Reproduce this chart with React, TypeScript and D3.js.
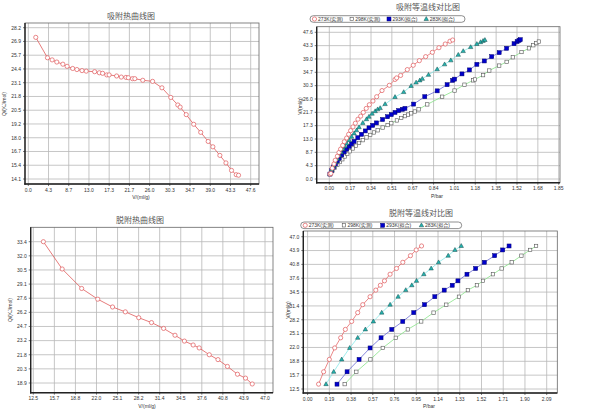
import * as d3 from "d3";

// ---- 吸附热曲线图 (top left) ----
const adsHeatV = [1.6, 4.1, 5.1, 6.1, 7.4, 8.3, 9.5, 10.4, 11.5, 12.4, 14.2, 15.2, 15.9, 16.8, 17.3, 18.9, 19.9, 20.9, 21.4, 22.3, 22.8, 24.5, 26.6, 28.6, 30.5, 32.0, 32.5, 33.8, 35.4, 36.9, 38.5, 39.5, 41.0, 42.3, 43.5, 44.5, 45.0];
const adsHeatQ = [27.3, 25.4, 25.2, 25.0, 24.8, 24.6, 24.4, 24.3, 24.2, 24.15, 24.1, 24.0, 23.95, 23.8, 23.8, 23.7, 23.6, 23.57, 23.54, 23.45, 23.45, 23.3, 23.2, 22.6, 21.7, 21.0, 20.8, 20.1, 19.2, 18.45, 17.6, 17.1, 16.3, 15.6, 14.9, 14.5, 14.45];
const adsHeatXTicks = ["0.0", "4.3", "8.7", "13.0", "17.3", "21.7", "26.0", "30.3", "34.7", "39.0", "43.3", "47.6"];
const adsHeatYTicks = ["14.1", "15.4", "16.7", "18.0", "19.2", "20.5", "21.8", "23.1", "24.4", "25.7", "26.9", "28.2"];

// ---- 脱附热曲线图 (bottom left) ----
const desHeatV = [14.0, 16.8, 19.7, 22.1, 24.3, 26.2, 28.2, 30.1, 31.9, 33.6, 35.0, 36.3, 37.2, 38.7, 40.0, 41.4, 42.9, 44.1, 45.1];
const desHeatQ = [33.4, 30.6, 28.6, 27.5, 26.7, 26.2, 25.6, 25.1, 24.5, 23.8, 23.2, 22.8, 22.5, 21.8, 21.3, 20.6, 19.8, 19.4, 18.8];
const desHeatXTicks = ["12.5", "15.7", "18.8", "22.0", "25.1", "28.2", "31.4", "34.5", "37.6", "40.8", "43.9", "47.0"];
const desHeatYTicks = ["18.9", "20.3", "21.8", "23.2", "24.7", "26.2", "27.6", "29.1", "30.5", "32.0", "33.4"];

// ---- 吸附等温线对比图 (top right), [P, V] ----
const ads273 = [[0.005, 1.6], [0.013, 1.8], [0.024, 3.5], [0.038, 4.9], [0.048, 6.1], [0.065, 7.4], [0.078, 8.6], [0.091, 9.7], [0.108, 10.9], [0.121, 12.1], [0.14, 13.3], [0.156, 14.5], [0.172, 15.7], [0.191, 16.9], [0.21, 18.1], [0.231, 19.4], [0.253, 20.4], [0.274, 21.6], [0.298, 22.9], [0.323, 24.1], [0.352, 25.3], [0.382, 26.7], [0.425, 28.7], [0.484, 30.4], [0.53, 32.3], [0.543, 32.8], [0.575, 33.6], [0.629, 35.5], [0.677, 36.9], [0.726, 38.4], [0.777, 39.7], [0.831, 41.1], [0.884, 42.6], [0.935, 43.8], [0.973, 44.7], [0.995, 45.1]];
const ads298 = [[0.005, 1.6], [0.025, 2.6], [0.045, 3.6], [0.065, 4.6], [0.085, 5.5], [0.105, 6.4], [0.125, 7.3], [0.145, 8.2], [0.165, 9.0], [0.19, 9.9], [0.215, 10.8], [0.24, 11.7], [0.27, 12.6], [0.3, 13.5], [0.33, 14.3], [0.36, 15.1], [0.39, 15.8], [0.43, 16.7], [0.47, 17.5], [0.5, 18.1], [0.545, 19.0], [0.58, 19.8], [0.61, 20.4], [0.635, 20.9], [0.66, 21.3], [0.69, 21.9], [0.72, 22.6], [0.79, 24.2], [0.91, 26.7], [1.01, 28.7], [1.09, 30.6], [1.16, 32.0], [1.175, 32.3], [1.24, 33.7], [1.29, 35.2], [1.37, 36.8], [1.43, 38.0], [1.48, 39.5], [1.55, 41.2], [1.61, 42.4], [1.645, 43.4], [1.67, 44.1], [1.69, 44.6]];
const ads293 = [[0.005, 1.6], [0.02, 2.8], [0.035, 3.9], [0.05, 4.9], [0.065, 5.9], [0.08, 6.8], [0.1, 7.8], [0.12, 8.8], [0.14, 9.7], [0.16, 10.6], [0.18, 11.4], [0.2, 12.2], [0.23, 13.4], [0.26, 14.5], [0.29, 15.6], [0.32, 16.6], [0.35, 17.4], [0.38, 18.2], [0.43, 19.3], [0.47, 20.2], [0.5, 20.9], [0.53, 21.6], [0.56, 22.2], [0.59, 22.6], [0.61, 22.9], [0.68, 24.3], [0.77, 26.7], [0.87, 28.6], [0.95, 30.6], [0.995, 32.0], [1.01, 32.4], [1.07, 34.1], [1.13, 35.4], [1.19, 37.2], [1.25, 38.3], [1.31, 39.7], [1.37, 41.0], [1.43, 42.4], [1.49, 43.9], [1.515, 44.6], [1.53, 45.0], [1.54, 45.2]];
const ads283 = [[0.005, 1.6], [0.02, 3.0], [0.035, 4.3], [0.05, 5.5], [0.065, 6.6], [0.08, 7.7], [0.095, 8.7], [0.11, 9.7], [0.125, 10.6], [0.14, 11.5], [0.16, 12.6], [0.18, 13.7], [0.2, 14.8], [0.22, 15.8], [0.24, 16.8], [0.27, 18.2], [0.3, 19.4], [0.32, 20.2], [0.345, 21.2], [0.37, 22.0], [0.39, 22.6], [0.41, 23.0], [0.45, 24.3], [0.53, 26.6], [0.6, 28.2], [0.66, 30.2], [0.7, 31.3], [0.73, 32.0], [0.75, 32.5], [0.8, 33.8], [0.87, 35.6], [0.93, 37.2], [0.98, 38.5], [1.04, 40.3], [1.08, 41.5], [1.14, 42.8], [1.19, 43.8], [1.22, 44.4], [1.24, 44.8], [1.255, 45.1]];
const adsIsoXTicks = ["0.00", "0.17", "0.34", "0.51", "0.67", "0.84", "1.01", "1.18", "1.35", "1.52", "1.68", "1.85"];
const adsIsoYTicks = ["0.0", "4.3", "8.7", "13.0", "17.3", "21.7", "26.0", "30.3", "34.7", "39.0", "43.3", "47.6"];

// ---- 脱附等温线对比图 (bottom right): shared V rows, P per series ----
const desIsoV = [13.6, 16.4, 19.2, 21.8, 24.1, 26.0, 27.8, 29.8, 31.6, 33.4, 34.9, 36.0, 37.0, 38.5, 39.8, 41.2, 42.7, 44.0, 44.9];
const des273P = [0.096, 0.14, 0.19, 0.237, 0.289, 0.33, 0.385, 0.438, 0.482, 0.546, 0.596, 0.636, 0.672, 0.721, 0.777, 0.832, 0.899, 0.949, 0.996];
const des283P = [0.161, 0.228, 0.298, 0.368, 0.438, 0.505, 0.575, 0.648, 0.721, 0.791, 0.858, 0.911, 0.952, 1.016, 1.08, 1.145, 1.229, 1.288, 1.343];
const des293P = [0.257, 0.345, 0.45, 0.546, 0.642, 0.736, 0.832, 0.928, 1.022, 1.112, 1.194, 1.264, 1.314, 1.393, 1.469, 1.545, 1.635, 1.705, 1.761];
const des298P = [0.324, 0.426, 0.549, 0.657, 0.771, 0.876, 0.993, 1.101, 1.212, 1.323, 1.401, 1.48, 1.533, 1.62, 1.696, 1.784, 1.869, 1.945, 1.997];
const desIsoXTicks = ["0.00", "0.19", "0.38", "0.57", "0.76", "0.95", "1.14", "1.33", "1.52", "1.71", "1.90", "2.09"];
const desIsoYTicks = ["12.5", "15.7", "18.8", "22.0", "25.1", "28.2", "31.4", "34.5", "37.6", "40.8", "43.9", "47.0"];

const legendNames = ["273K(实测)", "298K(实测)", "293K(拟合)", "283K(拟合)"];
const legendKinds = ["circle", "open", "filled", "tri"];

const NUM_FONT = "'Liberation Sans', Arial, 'Noto Sans CJK SC', sans-serif";
const CJK_FONT = "'Noto Sans CJK SC', sans-serif";

const LINE_COLORS = { circle: "#e56a6a", open: "#86e386", filled: "#6a6ad2", tri: "#86e8e8" };

function Marker({ kind, x, y }) {
  if (kind === "circle")
    return <circle cx={x} cy={y} r={2.1} fill="#fff" stroke="#e0585a" strokeWidth={0.7} />;
  if (kind === "open")
    return <rect x={x - 1.7} y={y - 1.7} width={3.4} height={3.4} fill="#fff" stroke="#555" strokeWidth={0.6} />;
  if (kind === "filled")
    return <rect x={x - 2} y={y - 2} width={4} height={4} fill="#0000cc" stroke="#000070" strokeWidth={0.5} />;
  return (
    <path
      d={`M${x},${y - 2.4}L${x + 2.2},${y + 1.5}L${x - 2.2},${y + 1.5}Z`}
      fill="#22b4b0"
      stroke="#1b4a4a"
      strokeWidth={0.5}
    />
  );
}

function Legend({ x0, x1, cy }) {
  const step = (x1 - x0 - 6) / legendNames.length;
  return (
    <g>
      <rect x={x0} y={cy - 3.3} width={x1 - x0} height={6.6} rx={3.3} fill="#fff" stroke="#444" strokeWidth={0.6} />
      {legendNames.map((name, i) => {
        const mx = x0 + 4.5 + i * step;
        return (
          <g key={name}>
            <Marker kind={legendKinds[i]} x={mx} y={cy} />
            <text x={mx + 3.5} y={cy + 1.8} fontSize={5} fontFamily={NUM_FONT} fill="#333">
              {name}
            </text>
          </g>
        );
      })}
    </g>
  );
}

function Panel({ cfg }) {
  const { frame, xTicks, yTicks, series } = cfg;
  const xv = xTicks.map(Number);
  const yv = yTicks.map(Number);
  const nx = xv.length;
  const ny = yv.length;
  const x = d3.scaleLinear().domain([xv[0], xv[nx - 1]]).range([frame.tx0, frame.tx1]);
  const y = d3.scaleLinear().domain([yv[0], yv[ny - 1]]).range([frame.ty0, frame.ty1]);
  const xs = d3.range(nx).map(i => xv[0] + (i * (xv[nx - 1] - xv[0])) / (nx - 1));
  const ys = d3.range(ny).map(i => yv[0] + (i * (yv[ny - 1] - yv[0])) / (ny - 1));
  const line = d3.line().x(d => x(d[0])).y(d => y(d[1]));

  return (
    <g>
      <text x={cfg.title[1]} y={cfg.title[2]} textAnchor="middle" fontSize={8} fontFamily={CJK_FONT} fill="#555">
        {cfg.title[0]}
      </text>
      <rect x={frame.x0} y={frame.y0} width={frame.x1 - frame.x0} height={frame.y1 - frame.y0} fill="#fff" />
      {xs.map((v, i) => (
        <line key={"gx" + i} x1={x(v)} x2={x(v)} y1={frame.y0} y2={frame.y1} stroke="#b8b8b8" strokeWidth={0.8} />
      ))}
      {ys.map((v, i) => (
        <line key={"gy" + i} y1={y(v)} y2={y(v)} x1={frame.x0} x2={frame.x1} stroke="#b8b8b8" strokeWidth={0.8} />
      ))}
      <rect x={frame.x0} y={frame.y0} width={frame.x1 - frame.x0} height={frame.y1 - frame.y0} fill="none" stroke="#666" strokeWidth={0.8} />
      <line x1={frame.x0} x2={frame.x0} y1={frame.y0} y2={frame.y1 + 0.8} stroke="#222" strokeWidth={1.4} />
      <line x1={frame.x0 - 0.7} x2={frame.x1} y1={frame.y1} y2={frame.y1} stroke="#222" strokeWidth={1.4} />
      {xs.map((v, i) => (
        <g key={"tx" + i}>
          <line x1={x(v)} x2={x(v)} y1={frame.y1} y2={frame.y1 + 2} stroke="#222" strokeWidth={0.6} />
          <text x={x(v)} y={frame.y1 + 7.5} textAnchor="middle" fontSize={5} fontFamily={NUM_FONT} fill="#333">
            {xTicks[i]}
          </text>
        </g>
      ))}
      {ys.map((v, i) => (
        <g key={"ty" + i}>
          <line x1={frame.x0 - 2} x2={frame.x0} y1={y(v)} y2={y(v)} stroke="#222" strokeWidth={0.6} />
          <text x={frame.x0 - 4} y={y(v) + 1.8} textAnchor="end" fontSize={5} fontFamily={NUM_FONT} fill="#333">
            {yTicks[i]}
          </text>
        </g>
      ))}
      <text x={cfg.xLabel[1]} y={cfg.xLabel[2]} textAnchor="middle" fontSize={5} fontFamily={NUM_FONT} fill="#333">
        {cfg.xLabel[0]}
      </text>
      <text
        transform={`translate(${cfg.yLabel[1]},${cfg.yLabel[2]}) rotate(-90)`}
        textAnchor="middle"
        fontSize={5}
        fontFamily={NUM_FONT}
        fill="#333"
      >
        {cfg.yLabel[0]}
      </text>
      {series.map((s, si) => (
        <path key={"l" + si} d={line(s.points)} fill="none" stroke={s.color} strokeWidth={0.8} />
      ))}
      {series.map((s, si) =>
        s.points.map((p, i) => <Marker key={si + "-" + i} kind={s.kind} x={x(p[0])} y={y(p[1])} />)
      )}
      {cfg.legend && <Legend x0={cfg.legend[0]} x1={cfg.legend[1]} cy={cfg.legend[2]} />}
    </g>
  );
}

const zip = (a, b) => a.map((v, i) => [v, b[i]]);

const panels = [
  {
    title: ["吸附热曲线图", 131, 19],
    frame: { x0: 25, y0: 23, x1: 259, y1: 184, tx0: 28.3, tx1: 250.7, ty0: 179, ty1: 27.7 },
    xTicks: adsHeatXTicks,
    yTicks: adsHeatYTicks,
    xLabel: ["V/(ml/g)", 141, 198.5],
    yLabel: ["Q/(KJ/mol)", 5.5, 104],
    series: [{ points: zip(adsHeatV, adsHeatQ), kind: "circle", color: "#e05a5a" }],
  },
  {
    title: ["吸附等温线对比图", 428, 10],
    frame: { x0: 316.7, y0: 26.7, x1: 560, y1: 182.7, tx0: 329.3, tx1: 558.7, ty0: 179, ty1: 32.3 },
    xTicks: adsIsoXTicks,
    yTicks: adsIsoYTicks,
    xLabel: ["P/bar", 437, 197.5],
    yLabel: ["V/(ml/g)", 301.5, 106],
    legend: [310, 465, 19],
    series: [
      { points: ads298, kind: "open", color: LINE_COLORS.open },
      { points: ads293, kind: "filled", color: LINE_COLORS.filled },
      { points: ads283, kind: "tri", color: LINE_COLORS.tri },
      { points: ads273, kind: "circle", color: LINE_COLORS.circle },
    ],
  },
  {
    title: ["脱附热曲线图", 140, 223],
    frame: { x0: 30.7, y0: 227.3, x1: 273, y1: 392.7, tx0: 33.3, tx1: 265, ty0: 383, ty1: 241.7 },
    xTicks: desHeatXTicks,
    yTicks: desHeatYTicks,
    xLabel: ["V/(ml/g)", 147, 407.5],
    yLabel: ["Q/(KJ/mol)", 12, 310],
    series: [{ points: zip(desHeatV, desHeatQ), kind: "circle", color: "#e05a5a" }],
  },
  {
    title: ["脱附等温线对比图", 421, 215.5],
    frame: { x0: 303.3, y0: 231, x1: 557.3, y1: 393, tx0: 307.6, tx1: 546.7, ty0: 389, ty1: 236.7 },
    xTicks: desIsoXTicks,
    yTicks: desIsoYTicks,
    xLabel: ["P/bar", 429, 408],
    yLabel: ["V/(ml/g)", 290, 310],
    legend: [300.7, 461.7, 225.3],
    series: [
      { points: zip(des298P, desIsoV), kind: "open", color: LINE_COLORS.open },
      { points: zip(des293P, desIsoV), kind: "filled", color: LINE_COLORS.filled },
      { points: zip(des283P, desIsoV), kind: "tri", color: LINE_COLORS.tri },
      { points: zip(des273P, desIsoV), kind: "circle", color: LINE_COLORS.circle },
    ],
  },
];

export default function App() {
  return (
    <svg
      width={600}
      height={416}
      style={{ position: "absolute", left: 0, top: 0, display: "block", background: "#fff" }}
    >
      <rect width={600} height={416} fill="#fff" />
      {panels.map((p, i) => (
        <Panel key={i} cfg={p} />
      ))}
    </svg>
  );
}
